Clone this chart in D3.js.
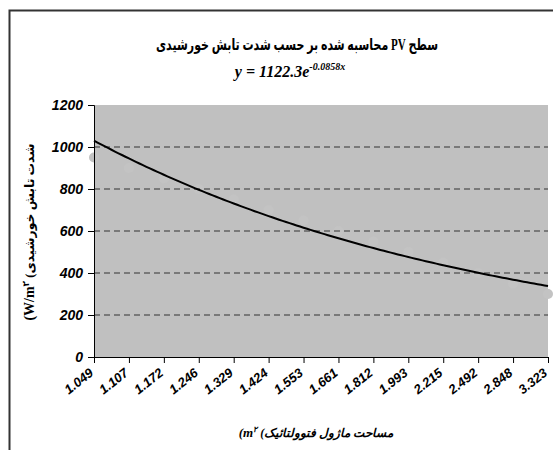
<!DOCTYPE html>
<html><head><meta charset="utf-8">
<script src="https://cdn.jsdelivr.net/npm/d3@7"></script>
<style>body{margin:0;background:#fff}svg{display:block}</style>
</head><body><svg id="c" width="553" height="450"></svg>
<script>
const categories = ["1.049","1.107","1.172","1.246","1.329","1.424","1.553","1.661","1.812","1.993","2.215","2.492","2.848","3.323"];
const irradiance = [950,900,850,800,750,700,650,600,550,500,450,400,350,300];
const yTicks = [0,200,400,600,800,1000,1200];
const gridValues = [200,400,600,800,1000];
const titleText = "سطح PV محاسبه شده بر حسب شدت تابش خورشیدی";
const equationMain = "y = 1122.3e";
const equationExp = "-0.0858x";
const yTitlePersian = "شدت تابش خورشیدی";
const xTitlePersian = "مساحت ماژول فتوولتائیک";

const svg = d3.select("#c");
const L = 94, R = 548, T = 105, B = 357;
const x = d3.scalePoint().domain(categories).range([L, R]);
const xi = d3.scaleLinear().domain([1, categories.length]).range([L, R]);
const y = d3.scaleLinear().domain([0, 1200]).range([B, T]);

// chart frame
svg.append("rect").attr("x", 9.5).attr("y", 10.5).attr("width", 700).attr("height", 600)
  .attr("fill", "#fff").attr("stroke", "#333").attr("stroke-width", 2);

// plot area
svg.append("rect").attr("x", L).attr("y", T).attr("width", R - L).attr("height", B - T).attr("fill", "#c0c0c0");

// markers (same colour as plot area)
svg.append("g").selectAll("circle").data(irradiance).join("circle")
  .attr("cx", (d, i) => x(categories[i])).attr("cy", d => y(d)).attr("r", 5).attr("fill", "#c3c3c3");

// gridlines
svg.append("g").selectAll("line").data(gridValues).join("line")
  .attr("x1", L).attr("x2", R).attr("y1", d => y(d)).attr("y2", d => y(d))
  .attr("stroke", "#333").attr("stroke-width", 1).attr("stroke-dasharray", "6,4");

// exponential trendline fitted from data
const idx = irradiance.map((d, i) => i + 1);
const lny = irradiance.map(d => Math.log(d));
const mx = d3.mean(idx), my = d3.mean(lny);
const b = d3.sum(idx, (v, i) => (v - mx) * (lny[i] - my)) / d3.sum(idx, v => (v - mx) * (v - mx));
const a = Math.exp(my - b * mx);
const tPts = d3.range(1, categories.length + 0.001, 0.1);
svg.append("path").datum(tPts)
  .attr("d", d3.line().x(t => xi(t)).y(t => y(a * Math.exp(b * t))))
  .attr("fill", "none").attr("stroke", "#000").attr("stroke-width", 2);

// y axis
const yAxis = svg.append("g").attr("transform", `translate(${L},0)`)
  .call(d3.axisLeft(y).tickValues(yTicks).tickSize(6).tickPadding(5).tickFormat(d3.format("d")));
yAxis.select(".domain").attr("stroke", "#000");
yAxis.selectAll("text").attr("font-family", "Liberation Sans, Arial, sans-serif")
  .attr("font-size", 14).attr("font-weight", "bold").attr("font-style", "italic").attr("fill", "#000");

// x axis
const xAxis = svg.append("g").attr("transform", `translate(0,${B})`)
  .call(d3.axisBottom(x).tickSize(6).tickSizeOuter(0).tickPadding(3));
xAxis.select(".domain").attr("stroke", "#000");
xAxis.selectAll("text").attr("font-family", "Liberation Sans, Arial, sans-serif")
  .attr("font-size", 13).attr("font-weight", "bold").attr("font-style", "italic").attr("fill", "#000")
  .attr("text-anchor", "end").attr("x", 0).attr("y", 0).attr("dy", "0.35em")
  .attr("transform", "translate(-3,14) rotate(-38)");

// title
svg.append("text").attr("x", 297).attr("y", 50).attr("text-anchor", "middle")
  .attr("direction", "rtl")
  .attr("font-family", "Liberation Serif, DejaVu Sans, serif").attr("font-weight", "bold").attr("font-size", 16)
  .attr("textLength", 282).attr("lengthAdjust", "spacingAndGlyphs")
  .text(titleText);

// equation
const eq = svg.append("text").attr("x", 290).attr("y", 77).attr("text-anchor", "middle")
  .attr("font-family", "Liberation Serif, serif").attr("font-weight", "bold").attr("font-style", "italic").attr("font-size", 16);
eq.append("tspan").text(equationMain);
eq.append("tspan").attr("font-size", 10).attr("dy", -7).text(equationExp);

// y title
const yt = svg.append("text").attr("transform", "translate(34,232) rotate(-90)").attr("text-anchor", "middle")
  .attr("font-family", "Liberation Serif, DejaVu Sans, serif").attr("font-weight", "bold").attr("font-size", 14);
yt.append("tspan").text("(W/m");
yt.append("tspan").attr("font-size", 9).attr("dy", -5).text("۲");
yt.append("tspan").attr("dy", 5).attr("font-size", 12.5).attr("font-weight", "bold").text(" (" + yTitlePersian);

// x title
const xt = svg.append("text").attr("x", 316).attr("y", 437).attr("text-anchor", "middle")
  .attr("font-family", "Liberation Serif, DejaVu Sans, serif").attr("font-weight", "bold").attr("font-style", "italic").attr("font-size", 13);
xt.append("tspan").text("(m");
xt.append("tspan").attr("font-size", 8).attr("dy", -5).text("۲");
xt.append("tspan").attr("dy", 5).attr("font-size", 12).text(" (" + xTitlePersian);
</script></body></html>
